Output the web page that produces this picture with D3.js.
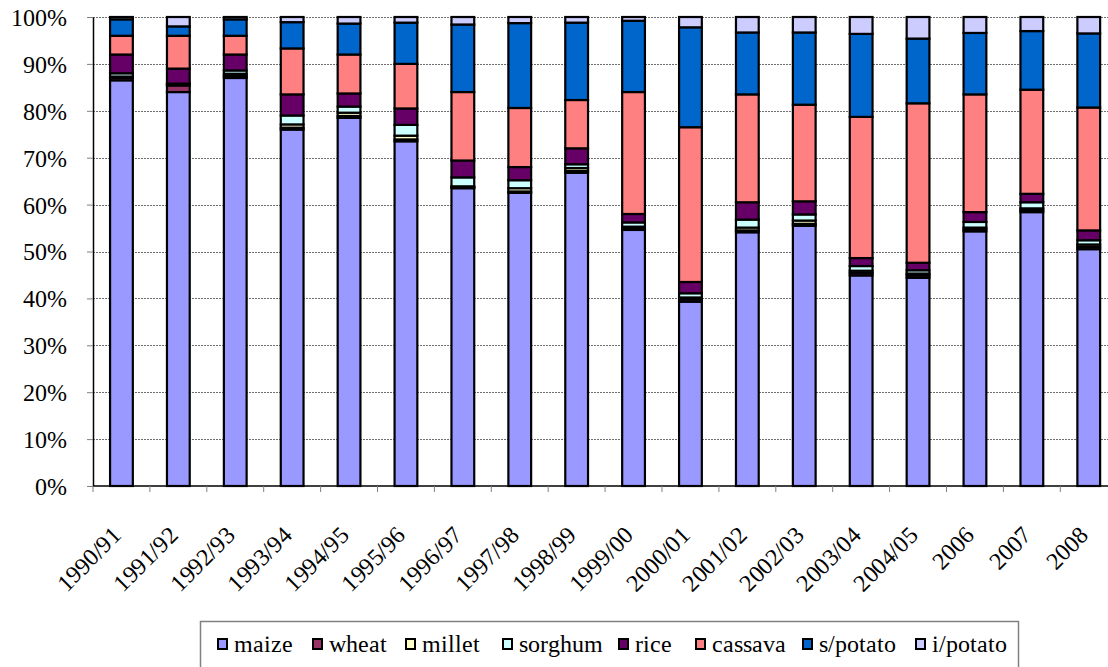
<!DOCTYPE html>
<html>
<head>
<meta charset="utf-8">
<script src="https://cdn.jsdelivr.net/npm/d3@7"></script>
<style>
  @font-face { font-family: "ChartSerif"; src: local("Liberation Serif"), local("LiberationSerif"), local("Liberation Serif Regular"); }
</style>
</head>
<body style="margin:0">
<svg id="chart" width="1108" height="667"></svg>
<script>
// Seasons shown along the x axis
const seasons = ["1990/91","1991/92","1992/93","1993/94","1994/95","1995/96","1996/97","1997/98",
  "1998/99","1999/00","2000/01","2001/02","2002/03","2003/04","2004/05","2006","2007","2008"];

// Share of each crop (%) per season
const maize    = [86.5, 84.0, 87.0, 76.0, 78.5, 73.5, 63.5, 62.5, 66.8, 54.6, 39.3, 54.1, 55.5, 44.9, 44.4, 54.3, 58.4, 50.5];
const wheat    = [ 0.5,  1.4,  0.4,  0.4,  0.4,  0.4,  0.2,  0.3,  0.4,  0.4,  0.5,  0.4,  0.4,  0.5,  0.5,  0.4,  0.4,  0.5];
const millet   = [ 0.3,  0.2,  0.5,  0.7,  0.7,  0.8,  0.2,  0.7,  0.6,  0.3,  0.4,  0.6,  0.7,  0.5,  0.4,  0.4,  0.4,  0.5];
const sorghum  = [ 0.7,  0.2,  0.7,  1.9,  1.3,  2.3,  1.9,  1.7,  0.8,  0.9,  0.9,  1.7,  1.3,  1.0,  0.7,  1.2,  1.3,  0.9];
const rice     = [ 4.0,  3.2,  3.4,  4.5,  2.8,  3.5,  3.6,  2.8,  3.4,  1.8,  2.4,  3.7,  2.8,  1.7,  1.6,  2.1,  1.8,  2.1];
const cassava  = [ 4.0,  7.0,  4.0,  9.8,  8.3,  9.5, 14.6, 12.6, 10.3, 26.0, 33.0, 23.0, 20.6, 30.1, 34.0, 25.1, 22.2, 26.2];
const sPotato  = [ 3.5,  2.0,  3.5,  5.6,  6.6,  8.8, 14.4, 18.1, 16.5, 15.2, 21.3, 13.2, 15.4, 17.7, 13.8, 13.1, 12.5, 15.8];
const iPotato  = [ 0.5,  2.0,  0.5,  1.1,  1.4,  1.2,  1.6,  1.3,  1.2,  0.8,  2.2,  3.3,  3.3,  3.6,  4.6,  3.4,  3.0,  3.5];

const crops   = ["maize","wheat","millet","sorghum","rice","cassava","s/potato","i/potato"];
const colours = ["#9999FF","#993366","#FFFFCC","#CCFFFF","#660066","#FF8080","#0066CC","#CCCCFF"];
const yTicks  = [0, 0.1, 0.2, 0.3, 0.4, 0.5, 0.6, 0.7, 0.8, 0.9, 1.0];

const seriesValues = [maize, wheat, millet, sorghum, rice, cassava, sPotato, iPotato];
const rows = seasons.map((s, i) => {
  const r = { season: s };
  crops.forEach((c, k) => { r[c] = seriesValues[k][i]; });
  return r;
});

const FONT = "ChartSerif, Liberation Serif, serif";
const svg = d3.select("#chart");
const plot = { left: 93, top: 17, bottom: 486, right: 93 + 18 * 56.9 };

const x = d3.scaleBand().domain(seasons).range([plot.left, plot.right]).paddingInner(0.6).paddingOuter(0.3);
const xBand = d3.scaleBand().domain(seasons).range([plot.left, plot.right]);
const y = d3.scaleLinear().domain([0, 1]).range([plot.bottom, plot.top]);

const stack = d3.stack().keys(crops).offset(d3.stackOffsetExpand);
const layers = stack(rows);
const colour = d3.scaleOrdinal().domain(crops).range(colours);

// Dotted horizontal gridlines
svg.append("g")
  .selectAll("line")
  .data(yTicks.filter(t => t > 0))
  .join("line")
  .attr("x1", plot.left).attr("x2", plot.right)
  .attr("y1", d => Math.round(y(d)) + 0.5).attr("y2", d => Math.round(y(d)) + 0.5)
  .attr("stroke", "#6e6e6e").attr("stroke-width", 1)
  .attr("stroke-dasharray", "2,1");

// Stacked bars
svg.append("g")
  .selectAll("g")
  .data(layers)
  .join("g")
  .attr("fill", d => colour(d.key))
  .selectAll("rect")
  .data(d => d)
  .join("rect")
  .attr("x", d => x(d.data.season))
  .attr("width", x.bandwidth())
  .attr("y", d => y(d[1]))
  .attr("height", d => y(d[0]) - y(d[1]))
  .attr("stroke", "#000")
  .attr("stroke-width", 2.2);

// Y axis
const yAxis = svg.append("g")
  .attr("transform", `translate(${plot.left},0)`)
  .call(d3.axisLeft(y).tickValues(yTicks).tickFormat(d3.format(".0%")).tickSizeInner(6).tickSizeOuter(0).tickPadding(20));
yAxis.select(".domain").attr("stroke", "#000").attr("stroke-width", 1.5);
yAxis.selectAll(".tick line").attr("stroke", "#808080");
yAxis.selectAll(".tick text")
  .style("font-family", FONT).style("font-size", "24px")
  .attr("fill", "#000").attr("dy", "0.35em");

// X axis with ticks at category boundaries
const xAxisG = svg.append("g").attr("transform", `translate(0,${plot.bottom})`);
xAxisG.append("line")
  .attr("x1", plot.left).attr("x2", plot.right)
  .attr("stroke", "#000").attr("stroke-width", 1.5);
xAxisG.selectAll("line.tk")
  .data(seasons)
  .join("line")
  .attr("class", "tk")
  .attr("x1", d => xBand(d)).attr("x2", d => xBand(d))
  .attr("y1", 0).attr("y2", 6)
  .attr("stroke", "#808080");
xAxisG.selectAll("text")
  .data(seasons)
  .join("text")
  .attr("text-anchor", "end")
  .attr("transform", d => `translate(${xBand(d) + xBand.bandwidth() / 2 + 1},${51}) rotate(-45)`)
  .style("font-family", FONT).style("font-size", "24px")
  .attr("fill", "#000")
  .text(d => d);

// Legend
const legend = svg.append("g");
legend.append("rect")
  .attr("x", 200.5).attr("y", 621.5).attr("width", 818).attr("height", 60)
  .attr("fill", "#fff").attr("stroke", "#808080").attr("stroke-width", 1.5);
const legendX = [218, 313, 406, 503, 619, 696, 803, 916];
const items = legend.selectAll("g.item")
  .data(crops)
  .join("g")
  .attr("class", "item")
  .attr("transform", (d, i) => `translate(${legendX[i]},0)`);
items.append("rect")
  .attr("x", 0).attr("y", 639).attr("width", 9).attr("height", 10)
  .attr("fill", d => colour(d)).attr("stroke", "#000").attr("stroke-width", 2);
items.append("text")
  .attr("x", 16).attr("y", 652)
  .style("font-family", FONT).style("font-size", "24px")
  .attr("fill", "#000")
  .text(d => d);
</script>
</body>
</html>
